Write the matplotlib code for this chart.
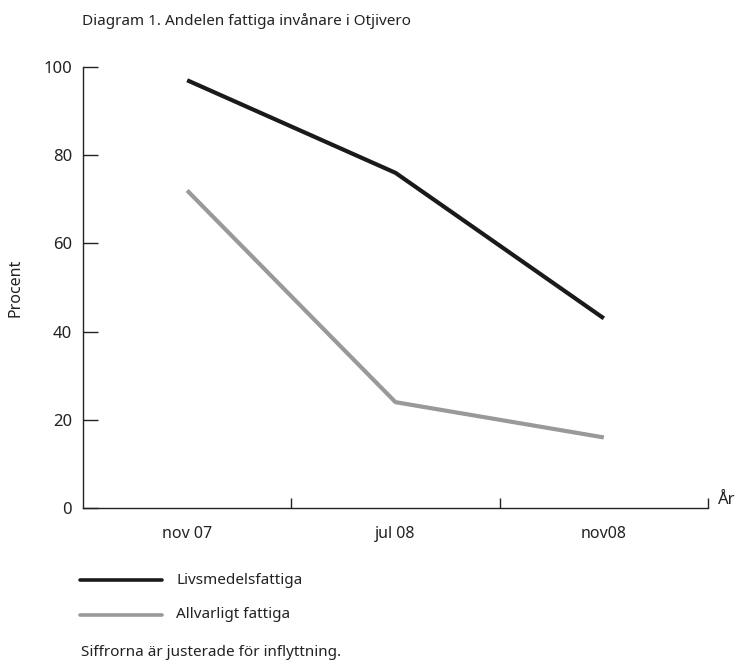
import matplotlib
matplotlib.use("Agg")
import matplotlib.pyplot as plt
from matplotlib.lines import Line2D

plt.rcParams['font.family'] = ['Noto Sans', 'DejaVu Sans']

categories = ["nov 07", "jul 08", "nov08"]
livsmedel = [97, 76, 43]
allvarligt = [72, 24, 16]
yticks = [0, 20, 40, 60, 80, 100]

fig = plt.figure(figsize=(7.37, 6.62), dpi=100)
ax = fig.add_axes([83/737, 1-508/662, (708-83)/737, (508-67)/662])

x = list(range(1, len(categories)+1))
black = '#1a1a1a'
grey = '#999999'
txt = '#222222'
ax.plot(x, livsmedel, color=black, lw=3, solid_capstyle='butt')
ax.plot(x, allvarligt, color=grey, lw=3, solid_capstyle='butt')

ax.set_xlim(0.5, len(categories)+0.5)
ax.set_ylim(0, 100)
for s in ['top', 'right']:
    ax.spines[s].set_visible(False)
for s in ['left', 'bottom']:
    ax.spines[s].set_linewidth(1)
    ax.spines[s].set_color(txt)

ax.set_yticks(yticks)
ax.set_yticklabels([str(v) for v in yticks], fontsize=12, color=txt)
ax.tick_params(axis='y', direction='in', length=11, width=1, pad=8, colors=txt)

ax.set_xticks(x)
ax.set_xticklabels(categories, fontsize=11.5, color=txt)
ax.tick_params(axis='x', which='major', length=0, pad=13)
ax.set_xticks([1.5, 2.5, 3.5], minor=True)
ax.tick_params(axis='x', which='minor', direction='in', length=7, width=1, colors=txt)

ax.set_ylabel("Procent", fontsize=11.5, color=txt, labelpad=14)

fig.text(718/737, 1-500/662, "År", fontsize=12, color=txt, va='center', ha='left')
fig.text(82/737, 1-21/662, "Diagram 1. Andelen fattiga invånare i Otjivero", fontsize=11,
         color=txt, va='center', ha='left')

# legend
fig.add_artist(Line2D([80/737, 162/737], [1-580/662, 1-580/662], color=black, lw=2.6,
                      solid_capstyle='round', transform=fig.transFigure))
fig.add_artist(Line2D([80/737, 162/737], [1-615/662, 1-615/662], color=grey, lw=2.6,
                      solid_capstyle='round', transform=fig.transFigure))
fig.text(176/737, 1-580/662, "Livsmedelsfattiga", fontsize=11, color=txt, va='center')
fig.text(176/737, 1-615/662, "Allvarligt fattiga", fontsize=11, color=txt, va='center')
fig.text(81/737, 1-652/662, "Siffrorna är justerade för inflyttning.", fontsize=11,
         color=txt, va='center')

fig.savefig("out.png", dpi=100)
